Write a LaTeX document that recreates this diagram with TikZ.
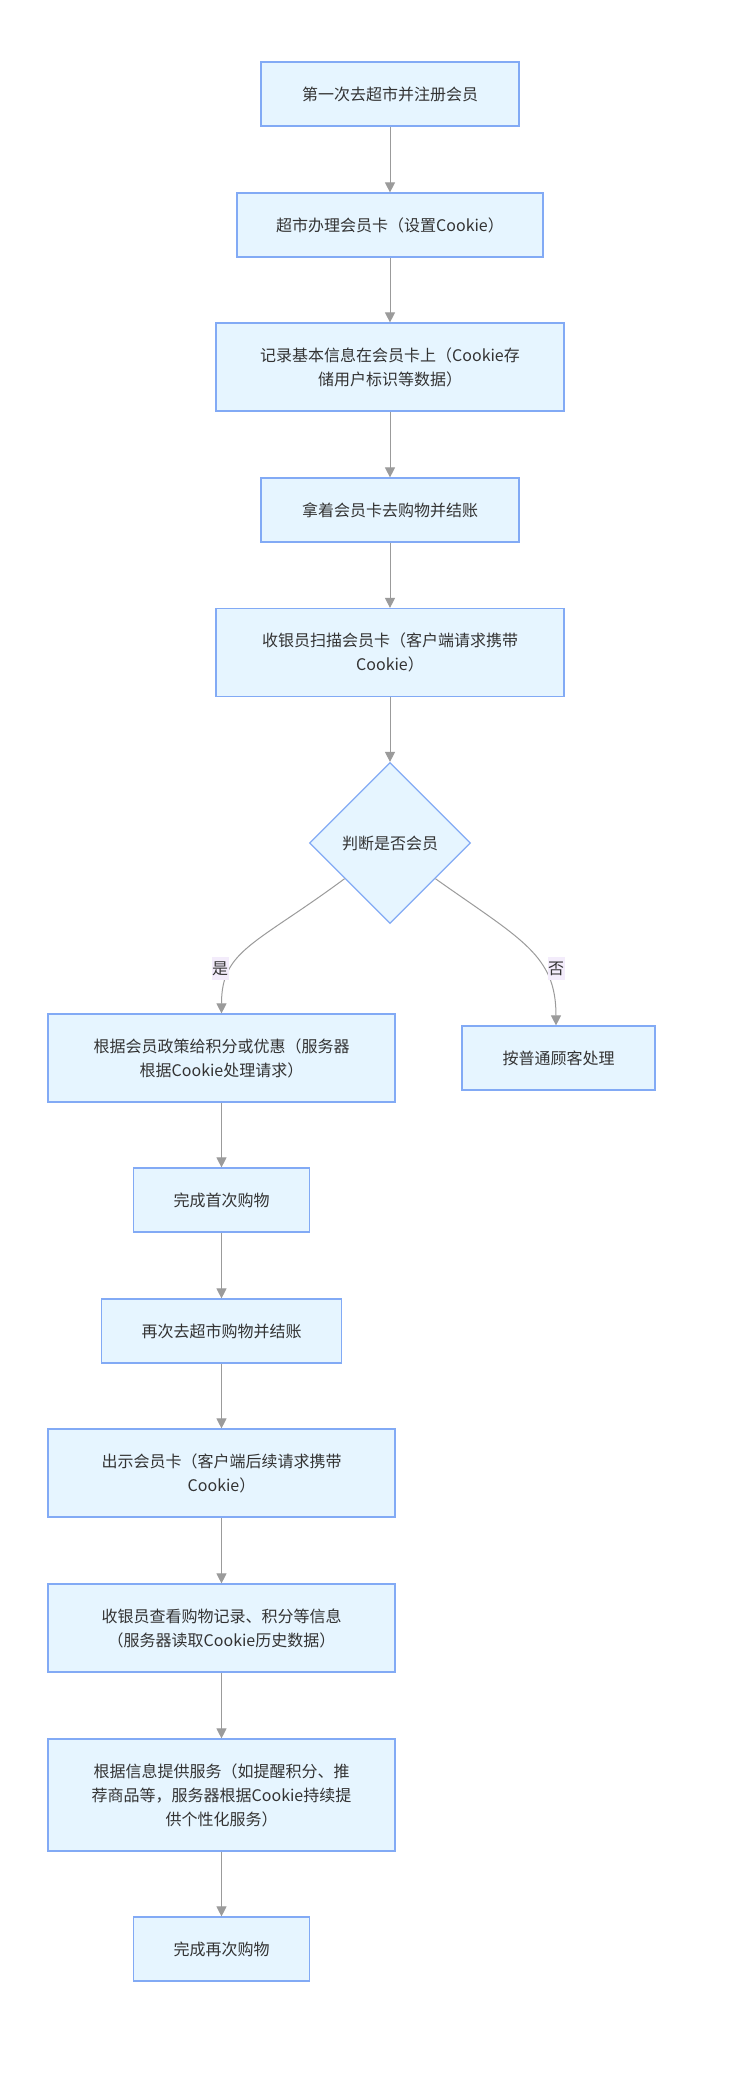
\documentclass[tikz,border=0pt]{standalone}
\usepackage{fontspec}
\setmainfont{Noto Sans CJK SC}
\usetikzlibrary{arrows.meta,shapes.geometric,calc}
\definecolor{boxfill}{HTML}{E6F5FF}
\definecolor{boxline}{HTML}{82AAF5}
\definecolor{edgecol}{HTML}{9B9B9B}
\definecolor{txt}{HTML}{333333}
\definecolor{lblbg}{HTML}{F3ECFB}
\begin{document}
\begin{tikzpicture}[x=1pt,y=-1pt,
  box/.style={draw=boxline, fill=boxfill, line width=1.2pt, text=txt, align=center,
    inner sep=0pt, font=\fontsize{16pt}{24pt}\selectfont},
  dia/.style={diamond, draw=boxline, fill=boxfill, line width=1.2pt, text=txt,
    minimum width=161pt, minimum height=161pt, inner sep=0pt,
    font=\fontsize{16pt}{24pt}\selectfont},
  edge/.style={draw=edgecol, line width=1pt, -{Triangle[length=10pt,width=10pt]}},
  elabel/.style={fill=lblbg, text=txt, inner xsep=0.5pt, inner ysep=0pt,
    minimum height=23pt, font=\fontsize{16pt}{16pt}\selectfont}
]
\fill[white] (0,0) rectangle (736,2077);
\useasboundingbox (0,0) rectangle (736,2077);

\node[box, minimum width=258pt, minimum height=64pt] (b1) at (390,94) {第一次去超市并注册会员};
\node[box, minimum width=306pt, minimum height=64pt] (b2) at (390,225) {超市办理会员卡（设置Cookie）};
\node[box, minimum width=348pt, minimum height=88pt] (b3) at (390,367) {记录基本信息在会员卡上（Cookie存\\储用户标识等数据）};
\node[box, minimum width=258pt, minimum height=64pt] (b4) at (390,510) {拿着会员卡去购物并结账};
\node[box, minimum width=348pt, minimum height=88pt] (b5) at (390,652.5) {收银员扫描会员卡（客户端请求携带\\Cookie）};
\node[dia] (d) at (390,843) {判断是否会员};
\node[box, minimum width=347pt, minimum height=88pt] (b6) at (221.5,1058) {根据会员政策给积分或优惠（服务器\\根据Cookie处理请求）};
\node[box, minimum width=193pt, minimum height=64pt] (b7) at (558.5,1058) {按普通顾客处理};
\node[box, minimum width=176pt, minimum height=64pt] (b8) at (221.5,1200) {完成首次购物};
\node[box, minimum width=240pt, minimum height=64pt] (b9) at (221.5,1331) {再次去超市购物并结账};
\node[box, minimum width=347pt, minimum height=88pt] (b10) at (221.5,1473) {出示会员卡（客户端后续请求携带\\Cookie）};
\node[box, minimum width=347pt, minimum height=88pt] (b11) at (221.5,1628) {收银员查看购物记录、积分等信息\\（服务器读取Cookie历史数据）};
\node[box, minimum width=347pt, minimum height=112pt] (b12) at (221.5,1795) {根据信息提供服务（如提醒积分、推\\荐商品等，服务器根据Cookie持续提\\供个性化服务）};
\node[box, minimum width=176pt, minimum height=64pt] (b13) at (221.5,1949) {完成再次购物};

\draw[edge] (b1) -- (b2);
\draw[edge] (b2) -- (b3);
\draw[edge] (b3) -- (b4);
\draw[edge] (b4) -- (b5);
\draw[edge] (b5) -- (d);
\draw[edge] ($(d.west)!0.44!(d.south)$) .. controls (255,945) and (221.5,950) .. (b6.north);
\draw[edge] ($(d.east)!0.44!(d.south)$) .. controls (522,940) and (556,955) .. ([xshift=-2.5pt]b7.north);
\draw[edge] (b6) -- (b8);
\draw[edge] (b8) -- (b9);
\draw[edge] (b9) -- (b10);
\draw[edge] (b10) -- (b11);
\draw[edge] (b11) -- (b12);
\draw[edge] (b12) -- (b13);

\node[elabel] (lyes) at (220,968.5) {是};
\node[elabel] (lno) at (556,968.5) {否};
\end{tikzpicture}
\end{document}
